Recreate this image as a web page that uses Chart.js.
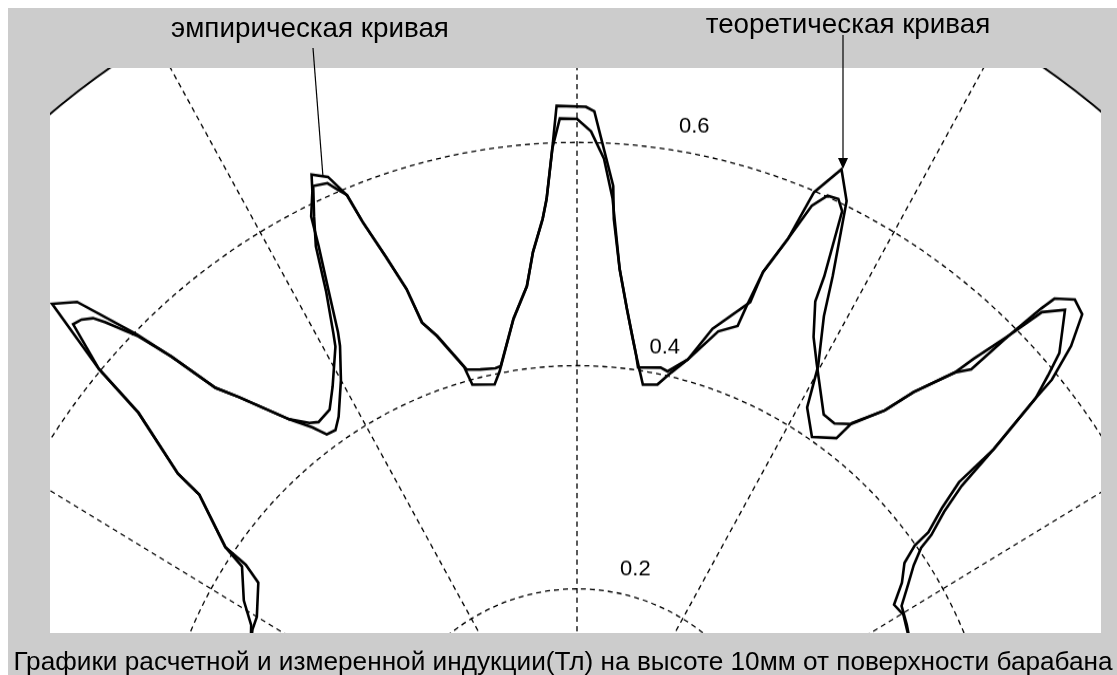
<!DOCTYPE html>
<html>
<head>
<meta charset="utf-8">
<script src="https://cdn.jsdelivr.net/npm/chart.js@4.4.1/dist/chart.umd.min.js"></script>
<style>
  html, body { margin: 0; padding: 0; background: #fff; }
  body { width: 1117px; height: 675px; position: relative; overflow: hidden; font-family: "Liberation Sans", Arial, sans-serif; }
  #figure { position: absolute; left: 8px; top: 8px; width: 1109px; height: 667px; background: #cccccc; }
  #plotClip { position: absolute; left: 50px; top: 68px; width: 1051px; height: 565px; overflow: hidden; }
  #polar { position: absolute; left: -318px; top: -101px; transform: scaleY(1.0566); transform-origin: 845px 845px; }
  #notes { position: absolute; left: 0; top: 0; }
  #notes text { font-family: "Liberation Sans", Arial, sans-serif; fill: #000; }
</style>
</head>
<body>
<div id="figure"></div>
<div id="plotClip"><canvas id="polar" width="1690" height="1690"></canvas></div>
<svg id="notes" width="1117" height="675">
  <line x1="313" y1="48" x2="323" y2="177" stroke="#000" stroke-width="1.2"/>
  <line x1="843" y1="35" x2="843" y2="160" stroke="#000" stroke-width="1.2"/>
  <polygon points="838,158 848,158 843,169" fill="#000"/>
  <text x="310" y="37" font-size="27.8" text-anchor="middle">эмпирическая кривая</text>
  <text x="848" y="33" font-size="27.8" text-anchor="middle">теоретическая кривая</text>
  <text x="563" y="670" font-size="26.2" text-anchor="middle">Графики расчетной и измеренной индукции(Тл) на высоте 10мм от поверхности барабана</text>
</svg>
<script>
// -------------------------------
// Daten: Winkel (Grad), Induktion (Tl)
// -------------------------------
const ringTicks = [0.2, 0.4, 0.6];
const ringLabels = ["0.2", "0.4", "0.6"];

const theoryAngles = [156.5, 153.5, 151.5, 149.0, 145.25, 144.5, 141.5, 141.25, 139.25, 138.75,
    137.5, 136.0, 134.25, 133.25, 132.0, 130.75, 127.75, 126.0, 125.0, 123.75,
    122.5, 120.0, 118.25, 117.75, 116.75, 115.75, 115.25, 114.25, 113.75, 112.5,
    111.5, 111.0, 110.0, 109.0, 108.5, 107.25, 105.0, 104.5, 101.5, 100.5,
    97.75, 95.75, 94.75, 93.5, 93.0, 92.25, 91.75, 89.25, 88.5, 88.0,
    86.5, 86.25, 85.25, 84.0, 83.0, 82.25, 80.75, 78.75, 77.25, 75.5,
    72.75, 70.75, 70.5, 70.0, 68.75, 68.0, 66.5, 65.0, 63.25, 62.25,
    60.25, 59.0, 56.5, 53.75, 53.25, 51.0, 49.75, 47.75, 47.25, 46.25,
    45.75, 45.5, 44.25, 43.0, 41.75, 40.75, 40.5, 39.5, 39.25, 38.25,
    37.0, 36.75, 35.75, 33.75, 31.75, 29.75, 27.25, 25.0];
const theoryValues = [0.339, 0.345, 0.351, 0.368, 0.386, 0.409, 0.457, 0.4845, 0.548, 0.602,
    0.674, 0.658, 0.598, 0.560, 0.5115, 0.491, 0.445, 0.426, 0.413, 0.4116,
    0.420, 0.447, 0.474, 0.486, 0.522, 0.563, 0.590, 0.610, 0.624, 0.616,
    0.594, 0.5665, 0.530, 0.4956, 0.4626, 0.4466, 0.413, 0.3956, 0.391, 0.4017,
    0.446, 0.4736, 0.5035, 0.5325, 0.550, 0.595, 0.633, 0.632, 0.628, 0.610,
    0.562, 0.5326, 0.488, 0.453, 0.4296, 0.414, 0.388, 0.3906, 0.4037, 0.4188,
    0.451, 0.4614, 0.481, 0.515, 0.551, 0.599, 0.628, 0.604, 0.538, 0.502,
    0.460, 0.423, 0.403, 0.4154, 0.435, 0.463, 0.493, 0.532, 0.553, 0.5905,
    0.630, 0.645, 0.658, 0.654, 0.627, 0.5935, 0.571, 0.5115, 0.467, 0.440,
    0.4166, 0.399, 0.382, 0.370, 0.353, 0.356, 0.352, 0.349];

const empiricAngles = [156.5, 152.0, 150.0, 145.75, 144.75, 144.5, 141.5, 141.25, 139.25, 138.75,
    137.5, 136.75, 136.0, 135.5, 134.25, 133.25, 132.0, 130.75, 127.75, 126.0,
    125.0, 123.0, 121.25, 118.75, 118.25, 117.0, 116.0, 115.0, 114.0, 112.75,
    112.25, 111.5, 111.0, 110.0, 109.0, 108.5, 107.25, 104.75, 103.0, 101.0,
    100.25, 97.75, 95.75, 94.75, 93.5, 93.0, 92.25, 91.5, 90.0, 88.75,
    87.5, 86.5, 85.25, 84.0, 83.0, 82.25, 81.75, 78.75, 77.75, 75.5,
    73.5, 70.25, 70.0, 68.75, 67.75, 66.75, 65.75, 65.0, 64.0, 63.75,
    62.25, 60.5, 56.75, 55.0, 53.25, 51.0, 49.75, 47.75, 46.75, 46.25,
    45.5, 44.25, 43.25, 42.0, 41.25, 40.5, 39.5, 38.75, 37.75, 36.5,
    36.0, 34.75, 33.0, 31.0, 28.25, 25.0];
const empiricValues = [0.339, 0.348, 0.350, 0.365, 0.384, 0.409, 0.457, 0.4845, 0.548, 0.602,
    0.647, 0.644, 0.637, 0.626, 0.595, 0.560, 0.5115, 0.491, 0.445, 0.431,
    0.4266, 0.430, 0.446, 0.4755, 0.4875, 0.523, 0.564, 0.589, 0.614, 0.611,
    0.604, 0.594, 0.5665, 0.530, 0.4956, 0.4626, 0.4466, 0.410, 0.407, 0.405,
    0.406, 0.446, 0.4736, 0.5035, 0.5325, 0.550, 0.595, 0.6216, 0.621, 0.610,
    0.586, 0.551, 0.488, 0.453, 0.4296, 0.414, 0.4026, 0.406, 0.404, 0.4188,
    0.4515, 0.4855, 0.515, 0.551, 0.587, 0.601, 0.6025, 0.594, 0.534, 0.510,
    0.481, 0.461, 0.426, 0.425, 0.434, 0.463, 0.493, 0.532, 0.5447, 0.5905,
    0.628, 0.645, 0.631, 0.6145, 0.593, 0.571, 0.5115, 0.467, 0.4396, 0.4173,
    0.4027, 0.388, 0.3736, 0.3585, 0.3545, 0.349];

// -------------------------------
// Winkelraster fuer das Radar (0.25 Grad, 0 Grad = rechts, gegen Uhrzeigersinn)
// -------------------------------
const STEP = 0.25;
const STRETCH_Y = 1.0566;
const angleLabels = [];
for (let i = 0; i < 360 / STEP; i++) {
    angleLabels.push(String((90 - i * STEP + 360) % 360));
}

function angleIndex(deg) {
    const n = angleLabels.length;
    return ((Math.round((90 - deg) / STEP) % n) + n) % n;
}

function toSeries(angles, values) {
    const out = new Array(angleLabels.length).fill(null);
    angles.forEach((a, k) => { out[angleIndex(a)] = values[k]; });
    return out;
}

// -------------------------------
// Ring-Beschriftung wie bei MATLAB polar (82 Grad)
// -------------------------------
const ringLabelPlugin = {
    id: "ringLabels",
    afterDatasetsDraw(chart) {
        const scale = chart.scales.r;
        const ctx = chart.ctx;
        ctx.save();
        ctx.font = '22px "Liberation Sans", Arial, sans-serif';
        ctx.fillStyle = "#000";
        ctx.textBaseline = "bottom";
        const pad = ctx.measureText("  ").width;
        ringTicks.forEach((v, k) => {
            const p = scale.getPointPositionForValue(angleIndex(82), v + 0.01);
            ctx.save();
            ctx.translate(p.x, p.y);
            ctx.scale(1, 1 / STRETCH_Y);
            ctx.fillText(ringLabels[k], pad, 0);
            ctx.restore();
        });
        ctx.restore();
    }
};

function lineSet(label, angles, values) {
    return {
        label,
        data: toSeries(angles, values),
        borderColor: "#000",
        borderWidth: 2.6,
        pointRadius: 0,
        fill: false,
        spanGaps: true,
        tension: 0
    };
}

new Chart(document.getElementById("polar"), {
    type: "radar",
    data: {
        labels: angleLabels,
        datasets: [
            lineSet("теоретическая кривая", theoryAngles, theoryValues),
            lineSet("эмпирическая кривая", empiricAngles, empiricValues)
        ]
    },
    options: {
        responsive: false,
        animation: false,
        events: [],
        layout: { padding: 0 },
        plugins: {
            legend: { display: false },
            tooltip: { enabled: false }
        },
        scales: {
            r: {
                min: 0,
                max: 0.8,
                backgroundColor: "#fff",
                ticks: { display: false, stepSize: 0.2 },
                pointLabels: { display: false },
                grid: {
                    circular: true,
                    color: "#000",
                    lineWidth: c => (c.tick && c.tick.value > 0.79 ? 2 : 1.3)
                },
                border: {
                    dash: c => (c.tick && c.tick.value > 0.79 ? [] : [5, 4])
                },
                angleLines: {
                    color: "#000",
                    lineWidth: c => (c.index % 120 === 0 ? 1.3 : 0),
                    borderDash: [5, 4]
                }
            }
        }
    },
    plugins: [ringLabelPlugin]
});
</script>
</body>
</html>
